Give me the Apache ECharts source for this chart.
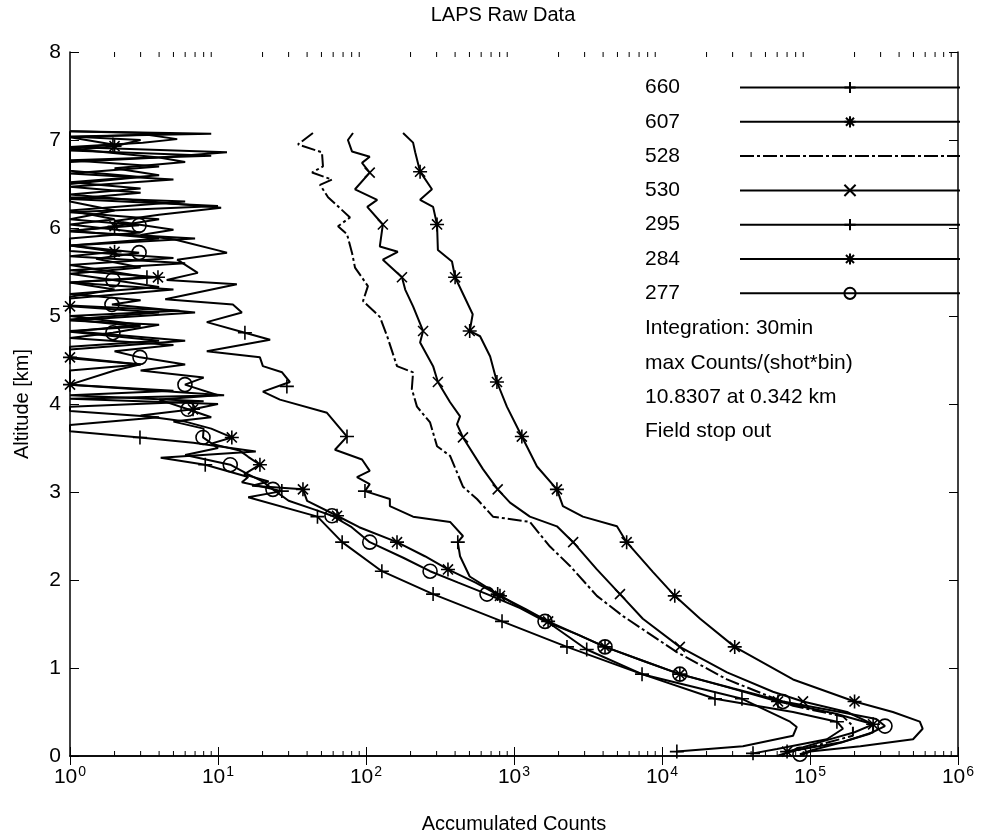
<!DOCTYPE html>
<html>
<head>
<meta charset="utf-8">
<script src="https://cdn.jsdelivr.net/npm/echarts@6/dist/echarts.min.js"></script>
<style>
html,body{margin:0;padding:0;background:#fff;}
#chart{width:982px;height:839px;}
</style>
</head>
<body>
<div id="chart"></div>
<script>
// ---------- data: [accumulated counts, altitude km] ----------
const names = ['660', '607', '528', '530', '295', '284', '277'];

const s660 = [[3,7.07],[5.3,7.01],[3.1,6.97],[1,6.92],[11.5,6.86],[4,6.8],[6,6.75],[2,6.68],[4,6.6],[1,6.52],[3,6.45],[1,6.38],[10.5,6.23],[4,6.15],[2,6.08],[5,5.98],[3,5.92],[5.1,5.87],[11.5,5.72],[5.3,5.64],[7.3,5.49],[4.5,5.41],[13.4,5.36],[4.4,5.19],[12.6,5.13],[14.5,5.04],[8.4,4.93],[15.2,4.81],[22.5,4.73],[8.4,4.6],[19.2,4.53],[20.1,4.43],[27.1,4.36],[30.6,4.25],[20.1,4.14],[26.2,4.05],[54.5,3.9],[74.4,3.63],[61.7,3.48],[94,3.37],[106,3.24],[86.9,3.17],[106,3.09],[98.4,3.01],[145,2.92],[145,2.84],[208,2.72],[370,2.66],[452,2.5],[417,2.43],[432,2.27],[502,2.04],[776,1.84],[1150,1.67],[1570,1.56],[3100,1.21],[7330,0.93],[34700,0.65],[73300,0.39],[81400,0.33],[76800,0.23],[35200,0.11],[12600,0.05]];
const m660 = [[15.2,4.81],[29.2,4.2],[74.4,3.63],[98.4,3.01],[417,2.43],[776,1.84],[3100,1.21],[34700,0.65],[12600,0.05]];

const s607 = [[178,7.08],[208,6.97],[215,6.86],[232,6.64],[279,6.44],[232,6.32],[284,6.24],[302,6.04],[306,5.75],[381,5.62],[400,5.44],[526,5.02],[502,4.83],[590,4.77],[690,4.54],[767,4.25],[895,3.97],[1130,3.63],[1430,3.29],[1950,3.03],[2140,2.84],[2920,2.72],[4960,2.61],[5770,2.43],[8700,2.09],[12200,1.82],[18100,1.56],[31000,1.24],[76800,0.87],[200000,0.62],[363000,0.5],[552000,0.39],[577000,0.31],[497000,0.19],[219000,0.11],[100000,0.05],[85000,0]];
const m607 = [[232,6.64],[302,6.04],[400,5.44],[502,4.83],[767,4.25],[1130,3.63],[1950,3.03],[5770,2.43],[12200,1.82],[31000,1.24],[200000,0.62]];

const s528 = [[43.8,7.08],[34.7,6.95],[50.4,6.86],[51.2,6.7],[43.2,6.63],[58.9,6.55],[48.9,6.49],[55.4,6.35],[78,6.12],[64.7,6.02],[74.4,5.93],[80.4,5.72],[84.3,5.55],[103,5.34],[95.5,5.17],[124,4.99],[139,4.77],[162,4.43],[208,4.36],[204,4.17],[221,3.97],[271,3.79],[302,3.52],[370,3.41],[452,3.06],[562,2.92],[721,2.72],[1280,2.66],[1750,2.38],[2390,2.16],[3630,1.82],[5450,1.59],[12600,1.18],[27500,0.87],[76800,0.57],[167000,0.45],[195000,0.34],[195000,0.23],[105000,0.11],[76800,0.05]];

const s530 = [[81.7,7.08],[75.5,7.0],[80.4,6.87],[106,6.81],[94,6.74],[106,6.63],[84.3,6.44],[119,6.32],[102,6.24],[130,6.04],[124,5.79],[164,5.73],[130,5.64],[175,5.44],[184,5.3],[208,5.11],[243,4.83],[232,4.7],[284,4.43],[306,4.25],[370,4.02],[432,3.86],[412,3.77],[452,3.62],[617,3.26],[776,3.03],[940,2.88],[1280,2.72],[1950,2.61],[2510,2.43],[3630,2.12],[5200,1.84],[7420,1.56],[13200,1.24],[27500,0.95],[56200,0.73],[89700,0.62],[178000,0.5],[267000,0.36],[267000,0.27],[167000,0.16],[76800,0.06],[59800,0]];
const m530 = [[106,6.63],[130,6.04],[175,5.44],[243,4.83],[306,4.25],[452,3.62],[776,3.03],[2510,2.43],[5200,1.84],[13200,1.24],[89700,0.62]];

const s295 = [[1,7.1],[5,7.07],[1,7.03],[1.95,6.95],[1,6.9],[4,6.8],[1,6.75],[1,6.65],[3,6.58],[1,6.5],[1,6.35],[6,6.3],[1,6.2],[2,6.1],[1,6.04],[3,5.95],[1,5.88],[1,5.74],[5,5.66],[1,5.58],[3.31,5.44],[1,5.38],[2,5.3],[1,5.22],[1,5.12],[5.5,5.06],[1,5.0],[3,4.9],[1,4.82],[4,4.72],[1,4.65],[1,4.52],[3,4.45],[1,4.38],[1,4.22],[5,4.15],[1,4.1],[8,4.03],[1,3.97],[1,3.92],[4,3.85],[1,3.76],[1,3.69],[2.97,3.62],[6.8,3.56],[18,3.46],[4.1,3.39],[8.2,3.31],[16,3.17],[14.5,3.11],[27,3.01],[16,2.94],[47,2.72],[69,2.43],[128,2.1],[284,1.84],[830,1.53],[2280,1.24],[7330,0.93],[22800,0.65],[76800,0.5],[152000,0.39],[167000,0.31],[130000,0.19],[59800,0.08],[41200,0.03]];
const m295 = [[1.95,6.95],[3.31,5.44],[2.97,3.62],[8.2,3.31],[27,3.01],[47,2.72],[69,2.43],[128,2.1],[284,1.84],[830,1.53],[2280,1.24],[7330,0.93],[22800,0.65],[152000,0.39],[41200,0.03]];

const s284 = [[1,7.1],[9,7.07],[1,7.04],[3,7.0],[2.0,6.93],[1,6.88],[9,6.82],[1,6.77],[4,6.7],[1,6.62],[5,6.55],[1,6.47],[3,6.4],[1,6.33],[10,6.25],[1,6.18],[4,6.1],[2.0,6.02],[1,5.96],[7,5.88],[1,5.8],[2.0,5.73],[1,5.68],[6,5.6],[1,5.52],[3.93,5.44],[1,5.38],[5,5.3],[1,5.2],[1,5.11],[4,5.04],[1,4.96],[3,4.88],[1,4.83],[6,4.72],[1,4.62],[1,4.53],[3,4.45],[2,4.38],[1,4.22],[11,4.1],[1,4.06],[10,4.0],[6.78,3.94],[3,3.87],[6,3.8],[9,3.72],[12.4,3.62],[9,3.55],[14,3.47],[16,3.4],[19.2,3.31],[15,3.2],[22,3.12],[17,3.07],[37.5,3.03],[40,2.9],[63.7,2.73],[90,2.6],[162,2.43],[250,2.27],[358,2.12],[550,1.97],[804,1.82],[1200,1.67],[1700,1.53],[2700,1.38],[4120,1.24],[7500,1.08],[13200,0.93],[28000,0.78],[60800,0.62],[150000,0.48],[267000,0.36],[200000,0.27],[130000,0.18],[90000,0.1],[70000,0.05]];
const m284 = [[2.0,6.93],[2.0,6.02],[2.0,5.73],[3.93,5.44],[1,5.11],[1,4.53],[1,4.22],[6.78,3.94],[12.4,3.62],[19.2,3.31],[37.5,3.03],[63.7,2.73],[162,2.43],[358,2.12],[804,1.82],[1700,1.53],[4120,1.24],[13200,0.93],[60800,0.62],[267000,0.36],[70000,0.05]];

const s277 = [[1,7.1],[1,6.3],[2,6.2],[1,6.1],[2.93,6.03],[1,5.97],[4,5.88],[1,5.8],[2.93,5.72],[1.5,5.65],[3,5.55],[1,5.48],[1.95,5.41],[4,5.33],[1,5.25],[3,5.18],[1.92,5.13],[7,5.04],[1,4.95],[4,4.9],[1.95,4.81],[1,4.75],[5,4.67],[2,4.6],[2.97,4.53],[6,4.45],[3,4.38],[8,4.3],[5.98,4.22],[10,4.1],[4,4.05],[6.27,3.94],[9,3.85],[5,3.8],[8,3.72],[7.92,3.62],[10,3.5],[6,3.42],[12.1,3.31],[16,3.2],[20,3.12],[23.5,3.03],[30,2.9],[45,2.8],[58.9,2.73],[80,2.6],[106,2.43],[180,2.25],[271,2.1],[420,1.97],[657,1.84],[1100,1.68],[1620,1.53],[2700,1.38],[4120,1.24],[7500,1.08],[13200,0.93],[30000,0.77],[65700,0.62],[160000,0.5],[280000,0.42],[321000,0.34],[250000,0.25],[160000,0.15],[100000,0.06],[85500,0.02]];
const m277 = [[2.93,6.03],[2.93,5.72],[1.95,5.41],[1.92,5.13],[1.95,4.81],[2.97,4.53],[5.98,4.22],[6.27,3.94],[7.92,3.62],[12.1,3.31],[23.5,3.03],[58.9,2.73],[106,2.43],[271,2.1],[657,1.84],[1620,1.53],[4120,1.24],[13200,0.93],[65700,0.62],[321000,0.34],[85500,0.02]];

const xDecades = [1, 10, 100, 1000, 10000, 100000];
const minorMultipliers = [2, 3, 4, 5, 6, 7, 8, 9];
const notes = ['Integration: 30min', 'max Counts/(shot*bin)', '10.8307 at 0.342 km', 'Field stop out'];

// ---------- styles ----------
const FONT = 'Liberation Sans, Arial, sans-serif';
const SYM = {
  plus: 'path://M0,-5L0,5M-5,0L5,0',
  star: 'path://M0,-5L0,5M-5,0L5,0M-3.6,-3.6L3.6,3.6M-3.6,3.6L3.6,-3.6',
  cross: 'path://M-5,-5L5,5M-5,5L5,-5',
  circle: 'path://M5,0A5,5,0,1,1,-5,0A5,5,0,1,1,5,0Z'
};
const seriesDefs = [
  {name: '660', line: s660, marks: m660, sym: SYM.plus, size: 14},
  {name: '607', line: s607, marks: m607, sym: SYM.star, size: 14},
  {name: '528', line: s528, marks: null, sym: 'none', size: 0, dash: [14, 3, 3, 3]},
  {name: '530', line: s530, marks: m530, sym: SYM.cross, size: 10},
  {name: '295', line: s295, marks: m295, sym: SYM.plus, size: 14},
  {name: '284', line: s284, marks: m284, sym: SYM.star, size: 14},
  {name: '277', line: s277, marks: m277, sym: SYM.circle, size: 14}
];

const minorTicks = [];
xDecades.forEach(d => minorMultipliers.forEach(m => minorTicks.push([d * m, 0])));

const series = [];
seriesDefs.forEach(d => {
  series.push({
    name: d.name, type: 'line', data: d.line,
    symbol: d.sym, showSymbol: false, symbolSize: d.size,
    lineStyle: {color: '#000', width: 2, type: d.dash || 'solid'},
    itemStyle: {color: 'transparent', borderColor: '#000', borderWidth: 1.6},
    animation: false, silent: true, z: 3
  });
  if (d.marks) {
    series.push({
      name: d.name, type: 'scatter', data: d.marks,
      symbol: d.sym, symbolSize: d.size,
      itemStyle: {color: 'transparent', borderColor: '#000', borderWidth: 1.6, opacity: 1},
      animation: false, silent: true, z: 4
    });
  }
});
// minor ticks of the logarithmic axis, at bottom and top of the box
series.push({
  type: 'custom', data: minorTicks, silent: true, animation: false, z: 5,
  renderItem: function (params, api) {
    const v = api.value(0);
    const b = api.coord([v, 0]);
    const t = api.coord([v, 8]);
    return {type: 'group', children: [
      {type: 'line', shape: {x1: b[0], y1: b[1], x2: b[0], y2: b[1] - 5}, style: {stroke: '#000', lineWidth: 1}},
      {type: 'line', shape: {x1: t[0], y1: t[1], x2: t[0], y2: t[1] + 5}, style: {stroke: '#000', lineWidth: 1}}
    ]};
  }
});

const axisCommon = {
  axisLine: {show: true, lineStyle: {color: '#000', width: 1.5}},
  axisTick: {show: true, inside: true, length: 9, lineStyle: {color: '#000', width: 1}},
  splitLine: {show: false}
};

const option = {
  backgroundColor: '#fff',
  animation: false,
  title: {
    text: 'LAPS Raw Data', left: 498, top: 0, textAlign: 'center',
    textStyle: {fontFamily: FONT, fontSize: 20, fontWeight: 'normal', color: '#000'}
  },
  grid: {left: 70, right: 24, top: 52, bottom: 82, containLabel: false},
  legend: {
    data: names.map(n => n === '528'
      ? {name: n, itemStyle: {color: 'transparent', borderColor: 'transparent', borderWidth: 0, opacity: 0}}
      : {name: n}),
    orient: 'vertical', left: 645, top: 77, align: 'right', padding: 0,
    itemWidth: 220, itemHeight: 14, itemGap: 13.3,
    selectedMode: false,
    formatter: '{n|{name}}',
    textStyle: {fontFamily: FONT, fontSize: 21, color: '#000', lineHeight: 20,
      rich: {n: {width: 90, align: 'left', fontFamily: FONT, fontSize: 21, lineHeight: 20, color: '#000'}}}
  },
  graphic: notes.map((t, i) => ({
    type: 'text', left: 645, top: 318 + i * 34.3,
    style: {text: t, fontFamily: FONT, fontSize: 21, fill: '#000'}
  })),
  xAxis: [
    Object.assign({
      type: 'log', logBase: 10, min: 1, max: 1e6, position: 'bottom',
      name: 'Accumulated Counts', nameLocation: 'middle', nameGap: 58,
      nameTextStyle: {fontFamily: FONT, fontSize: 20, color: '#000'},
      axisLabel: {
        margin: 9, color: '#000',
        formatter: v => '{b|10}{s|' + Math.round(Math.log10(v)) + '}',
        rich: {
          b: {fontFamily: FONT, fontSize: 21, color: '#000', lineHeight: 24},
          s: {fontFamily: FONT, fontSize: 14, color: '#000', verticalAlign: 'top', lineHeight: 13, padding: [0, 0, 0, 1]}
        }
      }
    }, axisCommon),
    Object.assign({
      type: 'log', logBase: 10, min: 1, max: 1e6, position: 'top',
      axisLabel: {show: false}
    }, axisCommon)
  ],
  yAxis: [
    Object.assign({
      type: 'value', min: 0, max: 8, interval: 1, position: 'left',
      name: 'Altitude [km]', nameLocation: 'middle', nameGap: 38, nameRotate: 90,
      nameTextStyle: {fontFamily: FONT, fontSize: 20, color: '#000'},
      axisLabel: {margin: 9, fontFamily: FONT, fontSize: 21, color: '#000'}
    }, axisCommon),
    Object.assign({
      type: 'value', min: 0, max: 8, interval: 1, position: 'right',
      axisLabel: {show: false}
    }, axisCommon)
  ],
  series: series
};

const chart = echarts.init(document.getElementById('chart'), null, {renderer: 'canvas'});
chart.setOption(option);
</script>
</body>
</html>
